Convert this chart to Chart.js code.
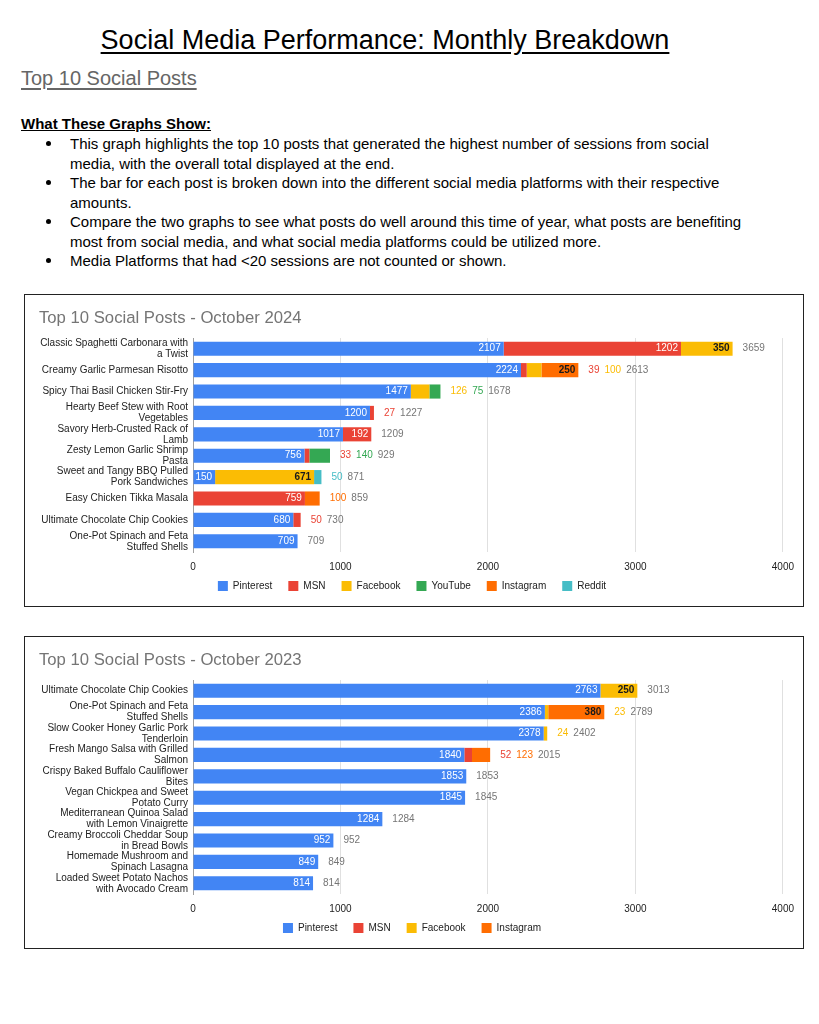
<!DOCTYPE html>
<html>
<head>
<meta charset="utf-8">
<script src="https://cdn.jsdelivr.net/npm/chart.js@4.4.0/dist/chart.umd.min.js"></script>
<style>
body { margin: 0; background: #fff; font-family: "Liberation Sans", Arial, sans-serif; color: #000; }
.page { position: relative; width: 819px; height: 1024px; overflow: hidden; }
#h1 { position: absolute; left: 0; width: 770px; top: 24px; text-align: center; font-size: 27px; line-height: 32px; text-decoration: underline; text-underline-offset: 3px; }
#h2 { position: absolute; left: 21px; top: 66px; font-size: 20px; line-height: 24px; color: #666; text-decoration: underline; text-underline-offset: 3px; }
#h3 { position: absolute; left: 21px; top: 114px; font-size: 15px; line-height: 19.5px; font-weight: bold; text-decoration: underline; }
#list { position: absolute; left: 70px; top: 134px; font-size: 15px; line-height: 19.5px; white-space: nowrap; }
.li { position: relative; }
.dot { position: absolute; left: -24px; top: 7px; width: 5px; height: 5px; border-radius: 50%; background: #000; }
.box { position: absolute; left: 24px; width: 778px; height: 311px; border: 1px solid #222; }
.box canvas { position: absolute; left: 0; top: 0; }
</style>
</head>
<body>
<div class="page">
  <div id="h1">Social Media Performance: Monthly Breakdown</div>
  <div id="h2">Top 10 Social Posts</div>
  <div id="h3">What These Graphs Show:</div>
  <div id="list">
    <div class="li"><span class="dot"></span>This graph highlights the top 10 posts that generated the highest number of sessions from social<br>media, with the overall total displayed at the end.</div>
    <div class="li"><span class="dot"></span>The bar for each post is broken down into the different social media platforms with their respective<br>amounts.</div>
    <div class="li"><span class="dot"></span>Compare the two graphs to see what posts do well around this time of year, what posts are benefiting<br>most from social media, and what social media platforms could be utilized more.</div>
    <div class="li"><span class="dot"></span>Media Platforms that had &lt;20 sessions are not counted or shown.</div>
  </div>
  <div class="box" style="top:294px"><canvas id="chart2024" width="778" height="320"></canvas></div>
  <div class="box" style="top:636px"><canvas id="chart2023" width="778" height="320"></canvas></div>
</div>
<script>
// October 2024
const posts2024 = [
  "Classic Spaghetti Carbonara with a Twist",
  "Creamy Garlic Parmesan Risotto",
  "Spicy Thai Basil Chicken Stir-Fry",
  "Hearty Beef Stew with Root Vegetables",
  "Savory Herb-Crusted Rack of Lamb",
  "Zesty Lemon Garlic Shrimp Pasta",
  "Sweet and Tangy BBQ Pulled Pork Sandwiches",
  "Easy Chicken Tikka Masala",
  "Ultimate Chocolate Chip Cookies",
  "One-Pot Spinach and Feta Stuffed Shells"
];
const pinterest2024 = [2107, 2224, 1477, 1200, 1017, 756, 150, null, 680, 709];
const msn2024       = [1202, 39, null, 27, 192, 33, null, 759, 50, null];
const facebook2024  = [350, 100, 126, null, null, null, 671, null, null, null];
const youtube2024   = [null, null, 75, null, null, 140, null, null, null, null];
const instagram2024 = [null, 250, null, null, null, null, null, 100, null, null];
const reddit2024    = [null, null, null, null, null, null, 50, null, null, null];

// October 2023
const posts2023 = [
  "Ultimate Chocolate Chip Cookies",
  "One-Pot Spinach and Feta Stuffed Shells",
  "Slow Cooker Honey Garlic Pork Tenderloin",
  "Fresh Mango Salsa with Grilled Salmon",
  "Crispy Baked Buffalo Cauliflower Bites",
  "Vegan Chickpea and Sweet Potato Curry",
  "Mediterranean Quinoa Salad with Lemon Vinaigrette",
  "Creamy Broccoli Cheddar Soup in Bread Bowls",
  "Homemade Mushroom and Spinach Lasagna",
  "Loaded Sweet Potato Nachos with Avocado Cream"
];
const pinterest2023 = [2763, 2386, 2378, 1840, 1853, 1845, 1284, 952, 849, 814];
const msn2023       = [null, null, null, 52, null, null, null, null, null, null];
const facebook2023  = [250, 23, 24, null, null, null, null, null, null, null];
const instagram2023 = [null, 380, null, 123, null, null, null, null, null, null];

const xTicks = [0, 1000, 2000, 3000, 4000];

const FONT = '"Liberation Sans", Arial, sans-serif';
Chart.defaults.font.family = FONT;
Chart.defaults.animation = false;

const platformColor = {
  Pinterest: '#4285f4', MSN: '#ea4335', Facebook: '#fbbc04',
  YouTube: '#34a853', Instagram: '#ff6d01', Reddit: '#46bdc6'
};
const darkInk = { Facebook: true, Instagram: true, Reddit: true };

function wrapLabel(text, size, maxW) {
  const c = document.createElement('canvas').getContext('2d');
  c.font = size + 'px ' + FONT;
  const lines = [];
  let cur = '';
  text.split(' ').forEach(w => {
    const t = cur ? cur + ' ' + w : w;
    if (cur && c.measureText(t).width > maxW) { lines.push(cur); cur = w; }
    else cur = t;
  });
  lines.push(cur);
  return lines;
}

// value labels inside segments, small ones + total after the bar
const barLabels = {
  id: 'barLabels',
  afterLayout(chart) {
    // pull the legend up closer to the tick labels
    chart.legend.top -= 8;
    chart.legend.bottom -= 8;
  },
  afterDatasetsDraw(chart) {
    const ctx = chart.ctx;
    ctx.save();
    ctx.textBaseline = 'middle';
    chart.data.labels.forEach((_, i) => {
      let end = 0, y = 0, total = 0;
      const outside = [];
      chart.data.datasets.forEach((ds, d) => {
        const v = ds.data[i];
        if (v == null) return;
        const bar = chart.getDatasetMeta(d).data[i];
        total += v;
        end = Math.max(end, bar.x);
        y = bar.y;
        const txt = String(v);
        const dark = darkInk[ds.label];
        ctx.font = (dark ? 'bold ' : '') + '10px ' + FONT;
        const w = ctx.measureText(txt).width;
        if (w + 4 <= bar.x - bar.base) {
          ctx.fillStyle = dark ? '#1a1a1a' : '#fff';
          ctx.textAlign = 'right';
          ctx.fillText(txt, bar.x - 3, y);
        } else {
          outside.push({ txt, color: ds.backgroundColor });
        }
      });
      ctx.font = '10px ' + FONT;
      ctx.textAlign = 'left';
      let cx = end + 10;
      outside.forEach(o => {
        ctx.fillStyle = o.color;
        ctx.fillText(o.txt, cx, y);
        cx += ctx.measureText(o.txt).width + 5;
      });
      ctx.fillStyle = '#757575';
      ctx.fillText(String(total), cx, y);
    });
    ctx.restore();
  }
};

function buildChart(id, title, posts, series) {
  new Chart(document.getElementById(id), {
    type: 'bar',
    data: {
      labels: posts.map(p => wrapLabel(p, 10, 148.3)),
      datasets: series.map(([name, vals]) => ({
        label: name,
        data: vals,
        backgroundColor: platformColor[name],
        borderWidth: 0,
        barPercentage: 0.66,
        categoryPercentage: 1
      }))
    },
    options: {
      indexAxis: 'y',
      responsive: false,
      devicePixelRatio: 1,
      events: [],
      layout: { padding: { left: 14, right: 18, top: 0, bottom: 6 } },
      scales: {
        x: {
          stacked: true,
          min: xTicks[0],
          max: xTicks[xTicks.length - 1],
          afterBuildTicks: s => { s.ticks = xTicks.map(v => ({ value: v })); },
          afterFit: s => { s.height = 21; },
          ticks: { color: '#222', font: { size: 10 }, padding: 9, maxRotation: 0, callback: v => String(v) },
          grid: { color: c => c.tick && c.tick.value === 0 ? '#9e9e9e' : '#e0e0e0', drawTicks: false },
          border: { display: false }
        },
        y: {
          stacked: true,
          afterFit: s => { s.width = 154; },
          ticks: { color: '#222', font: { size: 10, lineHeight: 1.1 }, padding: 5, autoSkip: false },
          grid: { display: false, drawTicks: false },
          border: { color: '#9e9e9e' }
        }
      },
      plugins: {
        title: {
          display: true, text: title, align: 'start', color: '#757575',
          font: { size: 16.7, weight: 'normal' }, padding: { top: 13, bottom: 10 }
        },
        legend: {
          position: 'bottom',
          labels: { boxWidth: 10, boxHeight: 10, padding: 16, color: '#222', font: { size: 10 } }
        },
        tooltip: { enabled: false }
      }
    },
    plugins: [barLabels]
  });
}

buildChart('chart2024', 'Top 10 Social Posts - October 2024', posts2024, [
  ['Pinterest', pinterest2024], ['MSN', msn2024], ['Facebook', facebook2024],
  ['YouTube', youtube2024], ['Instagram', instagram2024], ['Reddit', reddit2024]
]);
buildChart('chart2023', 'Top 10 Social Posts - October 2023', posts2023, [
  ['Pinterest', pinterest2023], ['MSN', msn2023], ['Facebook', facebook2023],
  ['Instagram', instagram2023]
]);
</script>
</body>
</html>
